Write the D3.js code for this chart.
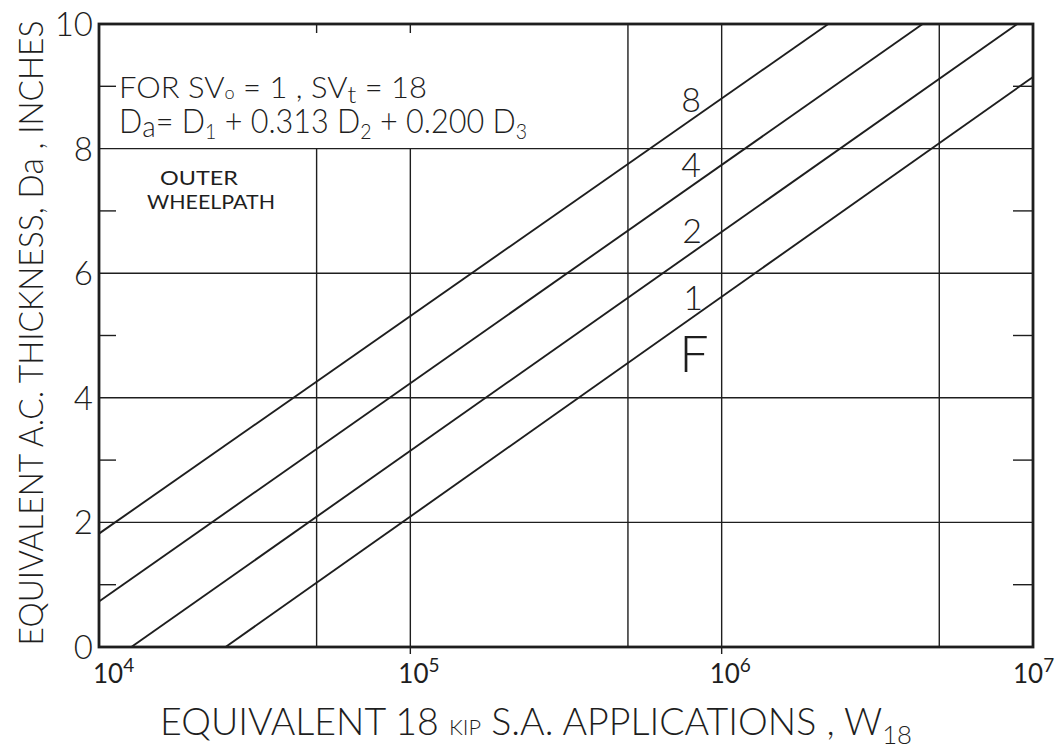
<!DOCTYPE html>
<html>
<head>
<meta charset="utf-8">
<script src="https://cdn.jsdelivr.net/npm/d3@7"></script>
<style>
  html, body { margin: 0; padding: 0; background: #fff; }
  svg { display: block; }
  text { font-family: Lato, "Open Sans", "DejaVu Sans", sans-serif; font-weight: 300; fill: #1e1e1e; }
  text.small { font-weight: 400; }
</style>
</head>
<body>
<svg id="chart" width="1060" height="751"></svg>
<script>
// Design curves: equivalent A.C. thickness vs. 18-kip single-axle applications
const seriesNames = ["8", "4", "2", "1"];
const line8 = [{ w: 1e4, d: 1.82 }, { w: 2.2e6, d: 10 }];
const line4 = [{ w: 1e4, d: 0.73 }, { w: 4.42e6, d: 10 }];
const line2 = [{ w: 1.27e4, d: 0 }, { w: 8.9e6, d: 10 }];
const line1 = [{ w: 2.55e4, d: 0 }, { w: 1e7, d: 9.15 }];
const seriesLines = [line8, line4, line2, line1];

// Axis ticks and grid
const xTickExponents = [4, 5, 6, 7];
const xGrid = [5e4, 1e5, 5e5, 1e6, 5e6];
const yTickLabels = [0, 2, 4, 6, 8, 10];
const yGrid = [2, 4, 6, 8];
const yMinor = [1, 3, 5, 7, 9];

const svg = d3.select("#chart");
const ink = "#1e1e1e";

const x = d3.scaleLog().domain([1e4, 1e7]).range([99, 1033]);
const y = d3.scaleLinear().domain([0, 10]).range([647, 24]);

const [x0, x1] = x.range();
const [yb, yt] = y.range();

// Note block sits in the upper-left corner; grid lines below it stop at 8
const noteFloor = 8;
const noteRight = 1.2e5;

const grid = svg.append("g").attr("stroke", ink).attr("stroke-width", 1.4).attr("fill", "none");

grid.selectAll("line.vx").data(xGrid).join("line")
  .attr("x1", d => x(d)).attr("x2", d => x(d))
  .attr("y1", d => d < noteRight ? y(noteFloor) : yt)
  .attr("y2", yb);

// short top ticks above the note block
grid.selectAll("line.vt").data(xGrid.filter(d => d < noteRight)).join("line")
  .attr("x1", d => x(d)).attr("x2", d => x(d))
  .attr("y1", yt).attr("y2", yt + 9);

// ticks below the axis at the decades
grid.selectAll("line.vd").data([1e5, 1e6]).join("line")
  .attr("x1", d => x(d)).attr("x2", d => x(d))
  .attr("y1", yb).attr("y2", yb + 7);

grid.selectAll("line.hy").data(yGrid).join("line")
  .attr("x1", x0).attr("x2", x1)
  .attr("y1", d => y(d)).attr("y2", d => y(d));

// minor ticks on both sides
grid.selectAll("line.ml").data(yMinor).join("line")
  .attr("x1", x0).attr("x2", x0 + 17)
  .attr("y1", d => y(d)).attr("y2", d => y(d));
grid.selectAll("line.mr").data(yMinor).join("line")
  .attr("x1", x1 - 20).attr("x2", x1)
  .attr("y1", d => y(d)).attr("y2", d => y(d));

// frame
svg.append("rect")
  .attr("x", x0).attr("y", yt)
  .attr("width", x1 - x0).attr("height", yb - yt)
  .attr("fill", "none").attr("stroke", ink).attr("stroke-width", 2.8);

// design lines
const lineGen = d3.line().x(p => x(p.w)).y(p => y(p.d));
svg.append("g").selectAll("path").data(seriesLines).join("path")
  .attr("d", lineGen)
  .attr("fill", "none").attr("stroke", ink).attr("stroke-width", 1.9);

// line labels
const labelPos = [[691, 112], [691, 177], [692, 243], [693, 310]];
svg.append("g").selectAll("text").data(seriesNames).join("text")
  .attr("x", (d, i) => labelPos[i][0]).attr("y", (d, i) => labelPos[i][1])
  .attr("text-anchor", "middle").attr("font-size", 34)
  .text(d => d);
svg.append("text").attr("x", 694).attr("y", 372)
  .attr("text-anchor", "middle").attr("font-size", 52).text("F");

// y tick labels
svg.append("g").selectAll("text").data(yTickLabels).join("text")
  .attr("x", 93).attr("y", d => y(d) + 12)
  .attr("text-anchor", "end").attr("font-size", 33)
  .text(d => d);

// x tick labels 10^n
const xl = svg.append("g").selectAll("text").data(xTickExponents).join("text")
  .attr("class", "small")
  .attr("x", d => x(Math.pow(10, d)) + (d === 7 ? -20 : d === 4 ? -6 : -12))
  .attr("y", 683)
  .attr("font-size", 26);
xl.append("tspan").text("10");
xl.append("tspan").attr("dy", -11).attr("font-size", 19).text(d => d);

// note block
const n1 = svg.append("text").attr("x", 119).attr("y", 98).attr("font-size", 29);
n1.append("tspan").text("FOR  SV");
n1.append("tspan").attr("font-size", 17).attr("dy", 1).text("o");
n1.append("tspan").attr("dy", -1).text(" = 1 ,  SV");
n1.append("tspan").attr("font-size", 24).attr("dy", 5).text("t");
n1.append("tspan").attr("dy", -5).text(" = 18");
n1.attr("textLength", 308).attr("lengthAdjust", "spacingAndGlyphs");

const n2 = svg.append("text").attr("x", 119).attr("y", 133).attr("font-size", 33);
n2.append("tspan").text("D");
n2.append("tspan").attr("font-size", 30).attr("dy", 4).text("a");
n2.append("tspan").attr("dy", -4).text("= D");
n2.append("tspan").attr("font-size", 21).attr("dy", 6).text("1");
n2.append("tspan").attr("dy", -6).text(" + 0.313 D");
n2.append("tspan").attr("font-size", 21).attr("dy", 6).text("2");
n2.append("tspan").attr("dy", -6).text(" + 0.200 D");
n2.append("tspan").attr("font-size", 21).attr("dy", 6).text("3");
n2.attr("textLength", 408).attr("lengthAdjust", "spacingAndGlyphs");

svg.append("text").attr("class", "small").attr("x", 199).attr("y", 185).attr("text-anchor", "middle")
  .attr("font-size", 20).attr("textLength", 78).attr("lengthAdjust", "spacingAndGlyphs").text("OUTER");
svg.append("text").attr("class", "small").attr("x", 211).attr("y", 209).attr("text-anchor", "middle")
  .attr("font-size", 20).attr("textLength", 128).attr("lengthAdjust", "spacingAndGlyphs").text("WHEELPATH");

// axis titles
const yt1 = svg.append("text")
  .attr("transform", "translate(43,333) rotate(-90)")
  .attr("text-anchor", "middle").attr("font-size", 34);
yt1.append("tspan").text("EQUIVALENT  A.C.  THICKNESS,  D");
yt1.append("tspan").attr("font-size", 36).text("a");
yt1.append("tspan").text(" , INCHES");
yt1.attr("textLength", 625).attr("lengthAdjust", "spacingAndGlyphs");

const xt = svg.append("text").attr("x", 536).attr("y", 735)
  .attr("text-anchor", "middle").attr("font-size", 38);
xt.append("tspan").text("EQUIVALENT   18 ");
xt.append("tspan").attr("font-size", 22).text("KIP");
xt.append("tspan").text(" S.A.  APPLICATIONS , W");
xt.append("tspan").attr("font-size", 26).attr("dy", 9).text("18");
xt.attr("textLength", 752).attr("lengthAdjust", "spacingAndGlyphs");
</script>
</body>
</html>
